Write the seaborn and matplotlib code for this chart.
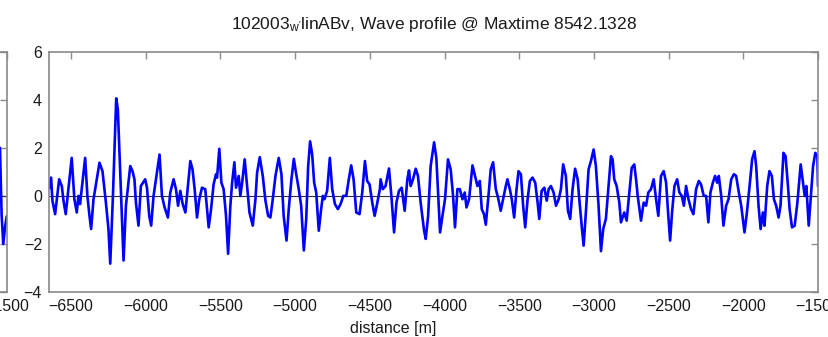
import numpy as np
import pandas as pd
import matplotlib
matplotlib.use("Agg")
import matplotlib.pyplot as plt
import seaborn as sns

# wave profile: distance [m] and elevation
distance = [
    -6648, -6634, -6625, -6607, -6580, -6562, -6551, -6536, -6518, -6496,
    -6478, -6462, -6451, -6440, -6406, -6391, -6377, -6366, -6350, -6328,
    -6310, -6290, -6267, -6250, -6238, -6220, -6198, -6187, -6165, -6149,
    -6133, -6104, -6089, -6076, -6066, -6049, -6033, -6004, -5992, -5977,
    -5964, -5948, -5937, -5908, -5892, -5874, -5852, -5836, -5814, -5798,
    -5784, -5769, -5753, -5735, -5720, -5702, -5687, -5673, -5657, -5642,
    -5624, -5602, -5579, -5563, -5546, -5530, -5523, -5508, -5494, -5479,
    -5463, -5449, -5434, -5422, -5407, -5396, -5378, -5367, -5355, -5338,
    -5322, -5306, -5284, -5266, -5255, -5237, -5217, -5199, -5181, -5166,
    -5150, -5132, -5110, -5092, -5077, -5058, -5043, -5025, -5009, -4993,
    -4976, -4960, -4942, -4926, -4913, -4900, -4886, -4873, -4859, -4842,
    -4826, -4815, -4804, -4786, -4768, -4752, -4734, -4714, -4696, -4678,
    -4658, -4641, -4625, -4609, -4591, -4569, -4551, -4533, -4518, -4502,
    -4484, -4468, -4450, -4433, -4428, -4413, -4395, -4372, -4356, -4338,
    -4322, -4305, -4287, -4267, -4249, -4238, -4227, -4211, -4193, -4178,
    -4160, -4137, -4126, -4110, -4093, -4070, -4055, -4041, -4030, -4014,
    -3997, -3977, -3959, -3943, -3930, -3914, -3898, -3880, -3865, -3853,
    -3836, -3813, -3796, -3780, -3764, -3751, -3736, -3724, -3702, -3691,
    -3675, -3657, -3642, -3624, -3608, -3590, -3579, -3563, -3550, -3534,
    -3518, -3505, -3489, -3474, -3460, -3444, -3429, -3411, -3393, -3377,
    -3366, -3350, -3332, -3316, -3303, -3288, -3270, -3254, -3236, -3221,
    -3206, -3188, -3174, -3159, -3143, -3126, -3109, -3098, -3080, -3069,
    -3054, -3036, -3020, -3002, -2987, -2969, -2953, -2938, -2920, -2904,
    -2886, -2875, -2864, -2848, -2830, -2819, -2797, -2781, -2763, -2747,
    -2730, -2718, -2707, -2685, -2667, -2651, -2636, -2618, -2600, -2584,
    -2569, -2551, -2533, -2517, -2502, -2490, -2477, -2461, -2443, -2428,
    -2412, -2398, -2383, -2367, -2350, -2334, -2316, -2298, -2283, -2265,
    -2249, -2234, -2220, -2204, -2189, -2175, -2164, -2148, -2133, -2115,
    -2099, -2081, -2063, -2048, -2030, -2014, -1992, -1976, -1958, -1941,
    -1925, -1914, -1898, -1884, -1869, -1858, -1840, -1825, -1809, -1795,
    -1780, -1764, -1751, -1731, -1717, -1701, -1690, -1674, -1656, -1638,
    -1616, -1600, -1589, -1578, -1562, -1549, -1533, -1518, -1504, -1500,
]
elevation = [
    0.30, 0.76, -0.20, -0.76, 0.69, 0.40, -0.20, -0.76, 0.28, 1.58,
    -0.14, -0.69, 0.00, -0.34, 1.58, 0.00, -0.83, -1.38, -0.14, 0.69,
    1.38, 1.03, -0.28, -1.38, -2.82, 0.00, 4.06, 3.58, 0.00, -2.69,
    -0.41, 1.24, 1.03, 0.69, -0.28, -1.24, 0.41, 0.69, 0.34, -0.83,
    -1.24, 0.00, 0.48, 1.72, 0.00, -0.48, -0.90, 0.14, 0.69, 0.28,
    -0.41, 0.21, -0.34, -0.69, 0.28, 1.45, 1.10, 0.28, -0.90, -0.14,
    0.34, 0.28, -1.31, -0.55, 0.48, 0.90, 0.76, 1.96, 0.55, 0.28,
    -0.83, -2.41, -0.41, 0.55, 1.40, 0.34, 0.83, 0.00, 0.55, 1.52,
    0.41, -0.69, -1.24, -0.14, 0.96, 1.61, 0.83, -0.20, -0.83, -0.90,
    -0.14, 0.83, 1.58, 0.90, -0.83, -1.86, -0.55, 0.69, 1.54, 0.90,
    0.28, -0.41, -2.27, -0.96, 1.24, 2.27, 1.72, 0.55, 0.14, -1.45,
    -0.55, 0.00, -0.14, 0.21, 1.58, 0.28, -0.34, -0.55, -0.34, 0.00,
    0.00, 0.69, 1.27, 0.69, -0.69, -0.76, 0.14, 1.45, 0.62, 0.48,
    -0.28, -0.83, -0.28, 0.28, 0.69, 0.28, 0.41, 1.14, 0.00, -1.52,
    -0.28, 0.21, 0.34, -0.62, 0.69, 1.06, 0.41, 0.69, 1.13, 0.83,
    -0.28, -1.45, -1.79, -0.83, 1.24, 2.23, 1.58, -0.14, -1.52, -0.83,
    -0.14, 1.52, 1.10, 0.00, -1.31, 0.28, 0.28, -0.14, 0.14, -0.48,
    -0.14, 1.27, 0.83, 0.41, 0.62, -0.55, -0.76, -1.20, 0.28, 1.10,
    1.40, 0.28, -0.07, -0.62, -0.14, 0.41, 0.69, 0.28, -0.14, -0.90,
    0.28, 1.03, 0.90, -0.41, -1.31, -0.14, 0.62, 0.76, 0.55, -0.28,
    -0.96, 0.21, 0.34, -0.20, 0.28, 0.41, 0.14, -0.41, -0.14, 0.28,
    1.31, 0.83, -0.62, -0.96, 0.28, 1.13, 0.69, -0.14, -1.38, -2.07,
    -0.69, 1.10, 1.45, 1.93, 1.24, -0.41, -2.30, -1.38, -0.96, 0.28,
    1.65, 1.52, 0.69, 0.41, -0.28, -1.10, -0.69, -1.03, 0.14, 1.17,
    1.31, 0.69, 0.00, -1.03, -0.28, -0.41, 0.14, 0.28, 0.69, -0.14,
    -0.83, 0.83, 1.03, 0.55, -0.83, -1.86, -0.69, 0.41, 0.69, 0.14,
    0.00, -0.41, 0.41, -0.14, -0.55, -0.76, 0.28, 0.62, 0.48, 0.00,
    0.00, -1.10, 0.14, 0.55, 0.83, 0.55, 0.83, 0.00, -1.24, -0.41,
    -0.14, 0.69, 0.90, 0.83, 0.14, -0.41, -1.52, -0.69, 0.41, 1.52,
    1.86, 1.24, -0.41, -1.38, -0.69, -1.24, 0.41, 1.03, 0.83, -0.14,
    -0.41, -0.90, -0.41, 1.79, 1.65, 0.41, -0.55, -1.31, -1.24, -0.28,
    1.31, 0.55, 0.00, 0.41, -1.24, -0.14, 1.24, 1.79, 1.65, 0.41,
]

# tail of the neighbouring panel that shows at the left edge
prev_distance = [-1547, -1536, -1525, -1513, -1502]
prev_elevation = [2.0, -0.8, -2.0, -1.3, -0.85]

x_ticks = list(range(-6500, -1499, 500))
y_ticks = [-4, -2, 0, 2, 4, 6]
title = "102003$_{\\mathrm{w'}}$linABv, Wave profile @ Maxtime 8542.1328"

sns.set_style("white")
plt.rcParams["font.family"] = ["Liberation Sans", "DejaVu Sans"]
plt.rcParams["mathtext.fontset"] = "custom"
plt.rcParams["mathtext.rm"] = "Liberation Sans"
plt.rcParams["mathtext.it"] = "Liberation Sans:italic"

df = pd.DataFrame({"distance": distance, "elevation": elevation})
prev = pd.DataFrame({"distance": prev_distance, "elevation": prev_elevation})

fig = plt.figure(figsize=(8.29, 3.37), dpi=100)
W, H = 829, 337
ax = fig.add_axes([49 / W, 45 / H, 769 / W, 240.3 / H])
ax_prev = fig.add_axes([(7 - 769) / W, 45 / H, 769 / W, 240.3 / H])

spine_col = "#8a8a8a"
for a, d in [(ax, df), (ax_prev, prev)]:
    a.axhline(0, color="#303030", lw=0.8, zorder=1)
    sns.lineplot(data=d, x="distance", y="elevation", ax=a, color="#0000ff",
                 lw=1.9, estimator=None, sort=False, zorder=2)
    a.set_xlim(-6648, -1500)
    a.set_ylim(-4, 6)
    a.set_xticks(x_ticks)
    a.set_yticks(y_ticks)
    a.set_xlabel("")
    a.set_ylabel("")
    a.tick_params(direction="in", top=True, right=True, length=5, width=1,
                  color=spine_col, labelsize=11.5, labelcolor="#1a1a1a", pad=5)
    for s in a.spines.values():
        s.set_color(spine_col)
        s.set_linewidth(1.2)

ax.set_title(title, fontsize=12.5, color="#1a1a1a", pad=16)
ax.set_xlabel("distance [m]", fontsize=11.5, color="#1a1a1a")
ax.xaxis.set_label_coords(0.447, -0.12)

fig.savefig("out.png", dpi=100)
